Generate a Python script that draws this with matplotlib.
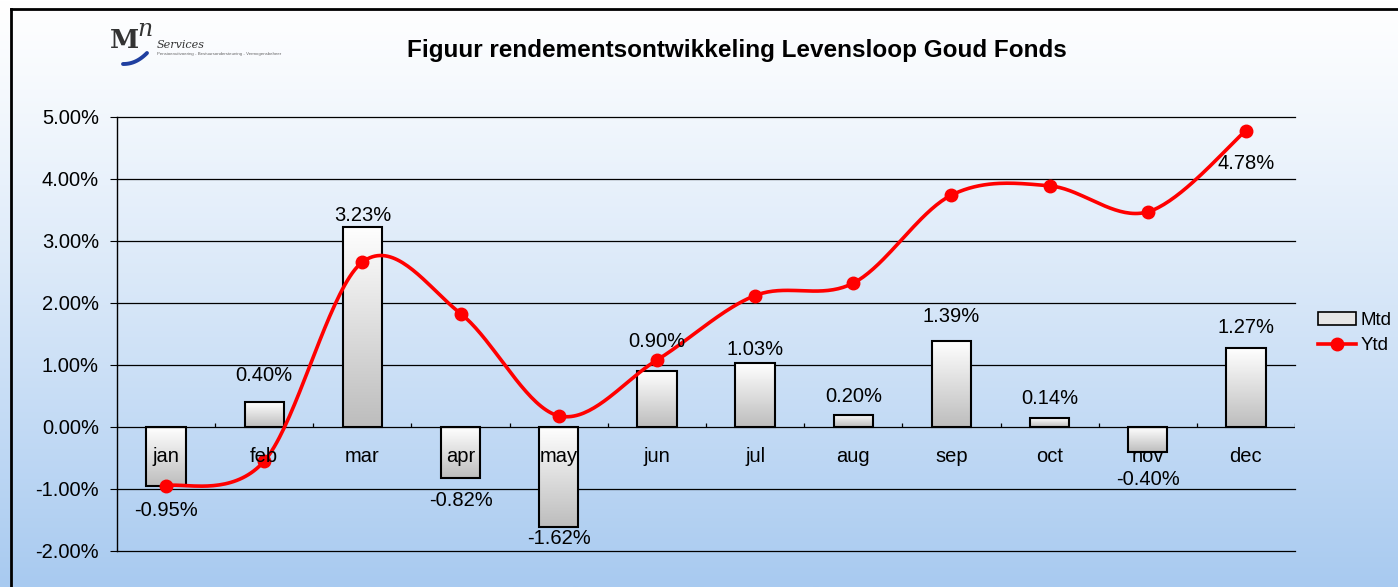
import numpy as np
import matplotlib
matplotlib.use("Agg")
import matplotlib.pyplot as plt
from matplotlib.patches import Rectangle
from matplotlib.lines import Line2D
from matplotlib.ticker import FuncFormatter

plt.rcParams['font.family'] = ['Liberation Sans', 'DejaVu Sans']

months = ["jan", "feb", "mar", "apr", "may", "jun", "jul", "aug", "sep", "oct", "nov", "dec"]
mtd = [-0.95, 0.40, 3.23, -0.82, -1.62, 0.90, 1.03, 0.20, 1.39, 0.14, -0.40, 1.27]
ytd = [-0.95, -0.55, 2.66, 1.83, 0.18, 1.08, 2.12, 2.32, 3.74, 3.89, 3.47, 4.78]
ytd_label = "4.78%"
yticks = [-2, -1, 0, 1, 2, 3, 4, 5]
title = "Figuur rendementsontwikkeling Levensloop Goud Fonds"

# label distance (pixels) from the bar end, layout only
label_gap_px = [25, 27, 11, 23, 11, 30, 14, 18, 24, 20, 28, 21]

W, H = 1398, 587
fig = plt.figure(figsize=(W / 100, H / 100), dpi=100)
FS = 14.5

# background gradient
bg = fig.add_axes([0, 0, 1, 1], zorder=-10)
grad = np.linspace(0, 1, 256).reshape(-1, 1)
top = np.array([1.0, 1.0, 1.0])
bot = np.array([0xa8, 0xca, 0xf0]) / 255
g = grad ** 1.15
img = top[None, None, :] * (1 - g[..., None]) + bot[None, None, :] * g[..., None]
bg.imshow(img, aspect='auto', extent=[0, 1, 0, 1], origin='upper')
bg.set_xlim(0, 1); bg.set_ylim(0, 1)
bg.axis('off')
# outer border (left & top)
bg.plot([11 / W, 11 / W], [0, 1 - 9 / H], color='black', lw=2)
bg.plot([11 / W, 1], [1 - 9 / H, 1 - 9 / H], color='black', lw=2)

# logo
bg.text(110 / W, 1 - 40 / H, "M", fontsize=19, fontweight='bold', family='DejaVu Serif',
        color='#333333', va='center', ha='left')
bg.text(137 / W, 1 - 29 / H, "n", fontsize=17, style='italic', family='DejaVu Serif',
        color='#333333', va='center', ha='left')
tt = np.linspace(0, 1, 30)
bg.plot((123 + 24 * tt) / W, 1 - (64 - 11 * tt ** 2.2) / H, color='#1f3fa0', lw=2.8,
        solid_capstyle='round')
bg.text(157 / W, 1 - 45 / H, "Services", fontsize=8, family='DejaVu Serif', style='italic',
        color='#333333', va='center', ha='left')
bg.text(157 / W, 1 - 54 / H, "Pensioenuitvoering - Bestuursondersteuning - Vermogensbeheer",
        fontsize=3.2, color='#666666', va='center', ha='left')

bg.text(737 / W, 1 - 51 / H, title, fontsize=17.5, fontweight='bold', ha='center', va='center')

# main axes
left, right = 117 / W, 1295 / W
ytop, ybot = 1 - 117 / H, 1 - 551 / H
ax = fig.add_axes([left, ybot, right - left, ytop - ybot])
ax.patch.set_alpha(0)
for s in ['top', 'right', 'bottom']:
    ax.spines[s].set_visible(False)
ax.spines['left'].set_linewidth(1)
ax.set_yticks(yticks)
ax.yaxis.set_major_formatter(FuncFormatter(lambda v, p: f"{v:.2f}%"))
ax.tick_params(axis='y', direction='out', length=5, labelsize=FS, pad=8)
for yv in yticks:
    if yv != 0:
        ax.axhline(yv, color='black', lw=0.9, zorder=1, clip_on=False)
ax.set_xticks([])

# zero axis with ticks at category boundaries
ax.axhline(0, color='black', lw=0.9, zorder=4)
bnds = np.arange(-0.5, 12.0, 1.0)
ax.vlines(bnds, 0, 0.07, color='black', lw=0.9, zorder=4)

x = np.arange(len(months))
bw = 0.4
bars = ax.bar(x, mtd, width=bw, facecolor='none', edgecolor='black', lw=1.5, zorder=3)
gimg = np.linspace(1, 0, 256).reshape(-1, 1)
gcol = (np.array([1, 1, 1])[None, None, :] * gimg[..., None]
        + np.array([0.74, 0.74, 0.74])[None, None, :] * (1 - gimg[..., None]))
for b, v in zip(bars, mtd):
    y0, y1 = min(0, v), max(0, v)
    im = ax.imshow(gcol, aspect='auto', extent=[b.get_x(), b.get_x() + bw, y0, y1],
                   origin='upper', zorder=2)
    im.set_clip_path(b)
ax.set_xlim(-0.5, 11.5)
ax.set_ylim(-2, 5)

# month labels
for xi, m in zip(x, months):
    ax.text(xi, -0.48, m, ha='center', va='center', fontsize=FS, zorder=6)

# data labels
for xi, v, gp in zip(x, mtd, label_gap_px):
    off = gp * 0.72 if v >= 0 else -gp * 0.72
    ax.annotate(f"{v:.2f}%", (xi, v), xytext=(0, off), textcoords='offset points',
                ha='center', va='center', fontsize=FS, zorder=6)

# smooth line (Excel-like bezier)
px = x.astype(float)
py = np.array(ytd, float)
P = np.column_stack([px, py])
n = len(P)
curve = []
for i in range(n - 1):
    p0 = P[i - 1] if i > 0 else P[i]
    p1 = P[i]
    p2 = P[i + 1]
    p3 = P[i + 2] if i + 2 < n else P[i + 1]
    c1 = p1 + (p2 - p0) / 6
    c2 = p2 - (p3 - p1) / 6
    t = np.linspace(0, 1, 40)[:, None]
    seg = (1 - t) ** 3 * p1 + 3 * (1 - t) ** 2 * t * c1 + 3 * (1 - t) * t ** 2 * c2 + t ** 3 * p2
    curve.append(seg if i == 0 else seg[1:])
curve = np.vstack(curve)
ax.plot(curve[:, 0], curve[:, 1], color='#ff0000', lw=2.6, zorder=5, clip_on=False)
ax.plot(px, py, 'o', color='#ff0000', ms=9, zorder=5, clip_on=False)
ax.annotate(ytd_label, (11, ytd[-1]), xytext=(0, -33 * 0.72), textcoords='offset points',
            ha='center', va='center', fontsize=FS, zorder=6)

# legend
handles = [Rectangle((0, 0), 1, 1, facecolor='#e6e6e6', edgecolor='black', lw=1.2),
           Line2D([0], [0], color='#ff0000', lw=2.6, marker='o', ms=9)]
fig.legend(handles, ["Mtd", "Ytd"], loc='center left', bbox_to_anchor=(1318 / W, 1 - 333 / H),
           frameon=False, fontsize=13.5, handlelength=2.0, handletextpad=0.25,
           labelspacing=0.45, borderpad=0, borderaxespad=0)

fig.savefig("out.png", dpi=100)
